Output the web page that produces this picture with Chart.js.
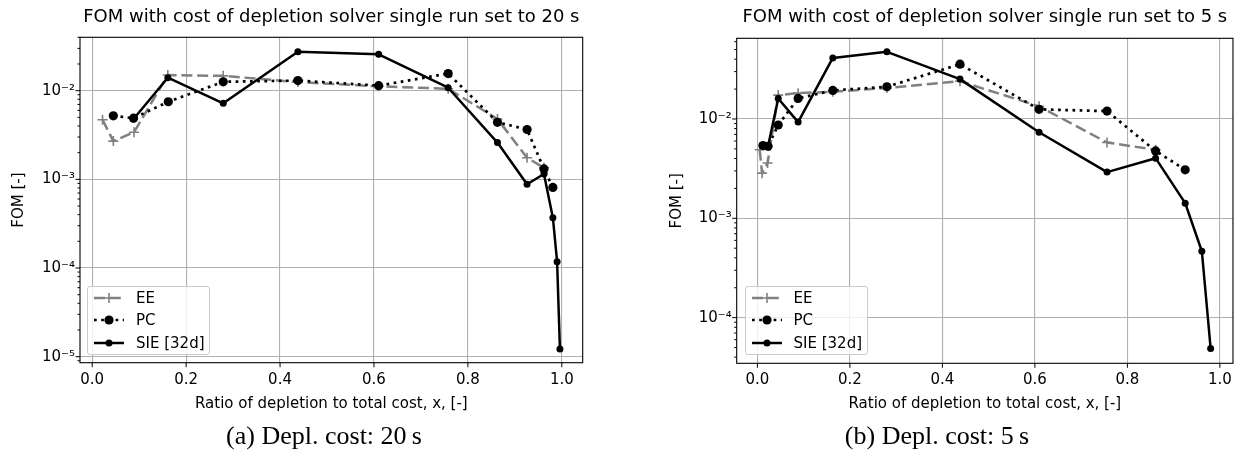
<!DOCTYPE html>
<html>
<head>
<meta charset="utf-8">
<script src="https://cdn.jsdelivr.net/npm/chart.js@4.4.1/dist/chart.umd.min.js"></script>
<style>
  html, body { margin: 0; padding: 0; background: #fff; }
  #wrap { position: relative; width: 1240px; height: 454px; overflow: hidden; background: #fff; }
  canvas.cv { position: absolute; top: 0; }
  .legend { position: absolute; box-sizing: border-box; border: 1px solid #cccccc; border-radius: 3px;
            background: rgba(255,255,255,0.8); font-family: 'DejaVu Sans'; font-size: 15px; color: #000; }
  .legend .row { position: absolute; left: 6px; height: 16px; display: flex; align-items: center; white-space: nowrap; }
  .legend .row svg { display: block; margin-right: 12px; }
  .cap { position: absolute; font-family: 'Liberation Serif', 'Times New Roman', serif; font-size: 26px;
         line-height: 26px; color: #000; white-space: nowrap; transform: translateX(-50%); }
</style>
</head>
<body>
<div id="wrap">
  <canvas id="c20" class="cv" width="620" height="425" style="left:0px;width:620px;height:425px"></canvas>
  <canvas id="c5" class="cv" width="620" height="425" style="left:620px;width:620px;height:425px"></canvas>
</div>
<script>
// ---------------- data ----------------
const seriesNames = ['EE', 'PC', 'SIE [32d]'];
const xTickValues = [0.0, 0.2, 0.4, 0.6, 0.8, 1.0];
const chartTitles = ['FOM with cost of depletion solver single run set to 20 s',
                     'FOM with cost of depletion solver single run set to 5 s'];
const captions = ['(a) Depl. cost: 20\u2009s', '(b) Depl. cost: 5\u2009s'];
const xAxisTitle = 'Ratio of depletion to total cost, x, [-]';
const yAxisTitle = 'FOM [-]';

// (a) depletion cost 20 s
const eeX20  = [0.022, 0.045, 0.089, 0.161, 0.279, 0.438, 0.610, 0.758, 0.863, 0.926, 0.962];
const eeY20  = [4.7e-3, 2.7e-3, 3.4e-3, 1.50e-2, 1.47e-2, 1.25e-2, 1.12e-2, 1.05e-2, 4.8e-3, 1.75e-3, 1.35e-3];
const pcX20  = [0.045, 0.088, 0.162, 0.279, 0.438, 0.610, 0.758, 0.863, 0.926, 0.962, 0.981];
const pcY20  = [5.2e-3, 4.9e-3, 7.5e-3, 1.26e-2, 1.30e-2, 1.14e-2, 1.56e-2, 4.4e-3, 3.65e-3, 1.31e-3, 8.1e-4];
const sieX20 = [0.088, 0.161, 0.279, 0.438, 0.610, 0.758, 0.863, 0.926, 0.962, 0.981, 0.990, 0.996];
const sieY20 = [4.8e-3, 1.40e-2, 7.2e-3, 2.75e-2, 2.57e-2, 1.08e-2, 2.6e-3, 8.8e-4, 1.15e-3, 3.7e-4, 1.18e-4, 1.22e-5];

// (b) depletion cost 5 s
const eeX5  = [0.005, 0.010, 0.022, 0.045, 0.088, 0.163, 0.280, 0.438, 0.609, 0.756, 0.861];
const eeY5  = [4.9e-3, 2.85e-3, 3.6e-3, 1.74e-2, 1.82e-2, 1.88e-2, 2.05e-2, 2.40e-2, 1.34e-2, 5.8e-3, 4.9e-3];
const pcX5  = [0.012, 0.023, 0.045, 0.088, 0.163, 0.280, 0.438, 0.609, 0.756, 0.861, 0.925];
const pcY5  = [5.4e-3, 5.3e-3, 8.7e-3, 1.61e-2, 1.94e-2, 2.11e-2, 3.56e-2, 1.25e-2, 1.20e-2, 4.77e-3, 3.08e-3];
const sieX5 = [0.012, 0.023, 0.045, 0.088, 0.163, 0.280, 0.438, 0.609, 0.756, 0.861, 0.925, 0.961, 0.980];
const sieY5 = [5.4e-3, 5.3e-3, 1.61e-2, 9.3e-3, 4.12e-2, 4.74e-2, 2.52e-2, 7.35e-3, 2.92e-3, 4.03e-3, 1.42e-3, 4.66e-4, 4.9e-5];

// ---------------- styling / helpers ----------------
const FONT = "'DejaVu Sans'";
Chart.defaults.font.family = FONT;
Chart.defaults.color = '#000';

const GRAY = '#808080';
const styles = [
  { color: GRAY, width: 2.5, dash: [11, 4.8], point: 'cross', radius: 5, pbw: 1.6, order: 2 },
  { color: '#000', width: 2.7, dash: [2.7, 4.5], point: 'circle', radius: 4.6, pbw: 0, order: 1 },
  { color: '#000', width: 2.5, dash: [], point: 'circle', radius: 3.5, pbw: 0, order: 0 }
];

function pts(xs, ys) { return xs.map((x, i) => ({ x: x, y: ys[i] })); }
function isPow10(v) { const e = Math.round(Math.log10(v)); return Math.abs(v - Math.pow(10, e)) / v < 1e-6; }
const SUP = { '-': '\u207B', '0': '\u2070', '1': '\u00B9', '2': '\u00B2', '3': '\u00B3', '4': '\u2074',
              '5': '\u2075', '6': '\u2076', '7': '\u2077', '8': '\u2078', '9': '\u2079' };
function sup(n) { return String(n).split('').map(c => SUP[c]).join(''); }

function makeDatasets(sets) {
  return sets.map((s, i) => ({
    label: seriesNames[i],
    data: pts(s[0], s[1]),
    showLine: true,
    borderColor: styles[i].color,
    backgroundColor: styles[i].color,
    borderWidth: styles[i].width,
    borderDash: styles[i].dash,
    borderJoinStyle: 'round',
    pointStyle: styles[i].point,
    pointRadius: styles[i].radius,
    pointBorderWidth: styles[i].pbw,
    pointBorderColor: styles[i].color,
    pointBackgroundColor: styles[i].color,
    tension: 0,
    order: styles[i].order
  }));
}

const frameAndTicks = {
  id: 'frameAndTicks',
  afterDraw(chart) {
    const ctx = chart.ctx, a = chart.chartArea;
    ctx.save();
    ctx.strokeStyle = '#000';
    ctx.lineWidth = 1;
    const xs = chart.scales.x, ys = chart.scales.y;
    xs.ticks.forEach(t => {
      const p = xs.getPixelForValue(t.value);
      ctx.beginPath(); ctx.moveTo(p, a.bottom); ctx.lineTo(p, a.bottom + 4.5); ctx.stroke();
    });
    ys.ticks.forEach(t => {
      const p = ys.getPixelForValue(t.value);
      const len = isPow10(t.value) ? 4.5 : 2.5;
      ctx.beginPath(); ctx.moveTo(a.left, p); ctx.lineTo(a.left - len, p); ctx.stroke();
    });
    ctx.lineWidth = 1.1;
    ctx.strokeRect(a.left, a.top, a.right - a.left, a.bottom - a.top);
    ctx.restore();
  }
};

function makeChart(id, cfg) {
  return new Chart(document.getElementById(id), {
    type: 'scatter',
    data: { datasets: makeDatasets(cfg.sets) },
    options: {
      responsive: false,
      animation: false,
      devicePixelRatio: 1,
      events: [],
      layout: { padding: { left: 0, right: cfg.padRight, top: 0, bottom: 0 } },
      plugins: {
        legend: { display: false },
        tooltip: { enabled: false },
        title: {
          display: true, text: cfg.title, fullSize: false, color: '#000',
          font: { family: FONT, size: 18, weight: 'normal', lineHeight: 1.2 },
          padding: { top: 7, bottom: cfg.titlePadBottom }
        }
      },
      scales: {
        x: {
          type: 'linear', min: cfg.xMin, max: cfg.xMax,
          afterBuildTicks: (s) => { s.ticks = xTickValues.map(v => ({ value: v })); },
          afterFit: (s) => { s.height = cfg.xAxisHeight; },
          grid: { color: '#b0b0b0', lineWidth: 1.1, drawTicks: false },
          border: { display: false },
          ticks: { padding: 8, autoSkip: false, maxRotation: 0, font: { size: 15 }, color: '#000',
                   callback: (v) => Number(v).toFixed(1) },
          title: { display: true, text: xAxisTitle, color: '#000',
                   font: { size: 15, lineHeight: 1.2 }, padding: { top: 0, bottom: 11.5 } }
        },
        y: {
          type: 'logarithmic', min: cfg.yMin, max: cfg.yMax,
          afterBuildTicks: (s) => {
            const t = [];
            for (let e = -7; e <= 0; e++) {
              for (let m = 1; m < 10; m++) {
                const v = m * Math.pow(10, e);
                if (v >= s.min && v <= s.max) t.push({ value: v });
              }
            }
            s.ticks = t;
          },
          afterFit: (s) => { s.width = cfg.yAxisWidth; },
          grid: { color: (c) => (c.tick && isPow10(c.tick.value)) ? '#b0b0b0' : 'rgba(0,0,0,0)',
                  lineWidth: 1.1, drawTicks: false },
          border: { display: false },
          ticks: { padding: 5, autoSkip: false, font: { size: 15 }, color: '#000',
                   callback: (v) => isPow10(v) ? '10' + sup(Math.round(Math.log10(v))) : '' },
          title: { display: true, text: yAxisTitle, color: '#000',
                   font: { size: 15, lineHeight: 1.2 }, padding: { top: cfg.yTitlePad, bottom: 0 } }
        }
      }
    },
    plugins: [frameAndTicks]
  });
}

makeChart('c20', {
  sets: [[eeX20, eeY20], [pcX20, pcY20], [sieX20, sieY20]],
  title: chartTitles[0],
  xMin: -0.026, xMax: 1.0445, yMin: 8.55e-6, yMax: 0.0400,
  padRight: 620 - 582.7, titlePadBottom: 8.7, xAxisHeight: 425 - 362.7, yAxisWidth: 80, yTitlePad: 10
});
makeChart('c5', {
  sets: [[eeX5, eeY5], [pcX5, pcY5], [sieX5, sieY5]],
  title: chartTitles[1],
  xMin: -0.0448, xMax: 1.0283, yMin: 3.47e-5, yMax: 0.0649,
  padRight: 0, titlePadBottom: 9.7, xAxisHeight: 425 - 363.3, yAxisWidth: 116.7, yTitlePad: 48
});

// ---------------- legends (HTML) and captions ----------------
function handleSvg(i) {
  const s = styles[i];
  const dash = s.dash.length ? ` stroke-dasharray="${s.dash.join(' ')}"` : '';
  let marker;
  if (s.point === 'cross') {
    marker = `<path d="M15 ${8 - s.radius}V${8 + s.radius}M${15 - s.radius} 8H${15 + s.radius}" stroke="${s.color}" stroke-width="${s.pbw}"/>`;
  } else {
    marker = `<circle cx="15" cy="8" r="${s.radius}" fill="${s.color}"/>`;
  }
  return `<svg width="30" height="16" viewBox="0 0 30 16"><line x1="0" y1="8" x2="30" y2="8" stroke="${s.color}" stroke-width="${s.width}"${dash}/>${marker}</svg>`;
}
function addLegend(left, top) {
  const d = document.createElement('div');
  d.className = 'legend';
  d.style.left = left + 'px'; d.style.top = top + 'px';
  d.style.width = '123px'; d.style.height = '69px';
  const rowCenters = [11.5, 34, 56.5];
  seriesNames.forEach((name, i) => {
    const r = document.createElement('div');
    r.className = 'row';
    r.style.top = (rowCenters[i] - 8 - 1) + 'px';
    r.innerHTML = handleSvg(i) + '<span>' + name + '</span>';
    d.appendChild(r);
  });
  document.getElementById('wrap').appendChild(d);
}
addLegend(87, 286);
addLegend(744.5, 286);

function addCaption(text, cx, top) {
  const d = document.createElement('div');
  d.className = 'cap';
  d.style.left = cx + 'px'; d.style.top = top + 'px';
  d.textContent = text;
  document.getElementById('wrap').appendChild(d);
}
addCaption(captions[0], 324, 423);
addCaption(captions[1], 937, 423);
</script>
</body>
</html>
